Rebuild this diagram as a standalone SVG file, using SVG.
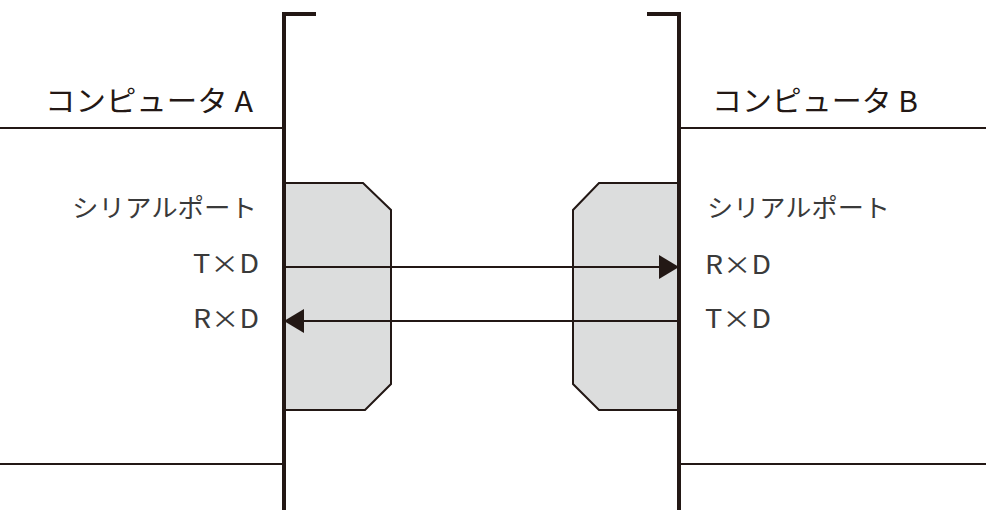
<svg xmlns="http://www.w3.org/2000/svg" width="986" height="528" viewBox="0 0 986 528">
<style>
.bar{fill:none;stroke:#231815;stroke-width:4;stroke-linecap:butt}
.thin{fill:none;stroke:#231815;stroke-width:2}
.port{fill:#dcdddd;stroke:#231815;stroke-width:2}
.title{font-family:"Noto Sans CJK JP","Noto Sans",sans-serif;font-size:29px;fill:#231815}
.lbl{font-family:"Noto Sans CJK JP","Noto Sans",sans-serif;font-size:25px;fill:#3a3a3a}
</style>
<defs>
<marker id="ah" viewBox="0 0 20 24" refX="20" refY="12" markerWidth="20" markerHeight="24" markerUnits="userSpaceOnUse" orient="auto">
<path d="M0,0 L20,12 L0,24 Z" fill="#231815"/>
</marker>
</defs>
<rect width="986" height="528" fill="#ffffff"/>
<g id="computerA">
<line class="thin" x1="0" y1="128" x2="284" y2="128"/>
<line class="thin" x1="0" y1="464" x2="284" y2="464"/>
<polygon class="port" points="284,183 363,183 391,210 391,384 365,410 284,410"/>
<polyline class="bar" points="316,14 284,14 284,510"/>
<text class="title" x="45" y="112" textLength="208" lengthAdjust="spacingAndGlyphs">コンピュータ A</text>
<text class="lbl" x="72" y="217" textLength="185" lengthAdjust="spacingAndGlyphs">シリアルポート</text>
<text class="lbl" x="193" y="273" textLength="66" lengthAdjust="spacingAndGlyphs">T×D</text>
<text class="lbl" x="193" y="328" textLength="66" lengthAdjust="spacingAndGlyphs">R×D</text>
</g>
<g id="computerB">
<line class="thin" x1="679" y1="128" x2="986" y2="128"/>
<line class="thin" x1="679" y1="464" x2="986" y2="464"/>
<polygon class="port" points="679,183 599,183 573,210 573,384 599,410 679,410"/>
<polyline class="bar" points="647,14 679,14 679,510"/>
<text class="title" x="712" y="112" textLength="206" lengthAdjust="spacingAndGlyphs">コンピュータ B</text>
<text class="lbl" x="707" y="217" textLength="183" lengthAdjust="spacingAndGlyphs">シリアルポート</text>
<text class="lbl" x="705" y="274" textLength="66" lengthAdjust="spacingAndGlyphs">R×D</text>
<text class="lbl" x="705" y="328" textLength="66" lengthAdjust="spacingAndGlyphs">T×D</text>
</g>
<g id="connectors">
<line class="thin" x1="284" y1="267" x2="679" y2="267" marker-end="url(#ah)"/>
<line class="thin" x1="679" y1="321" x2="284" y2="321" marker-end="url(#ah)"/>
</g>
</svg>
